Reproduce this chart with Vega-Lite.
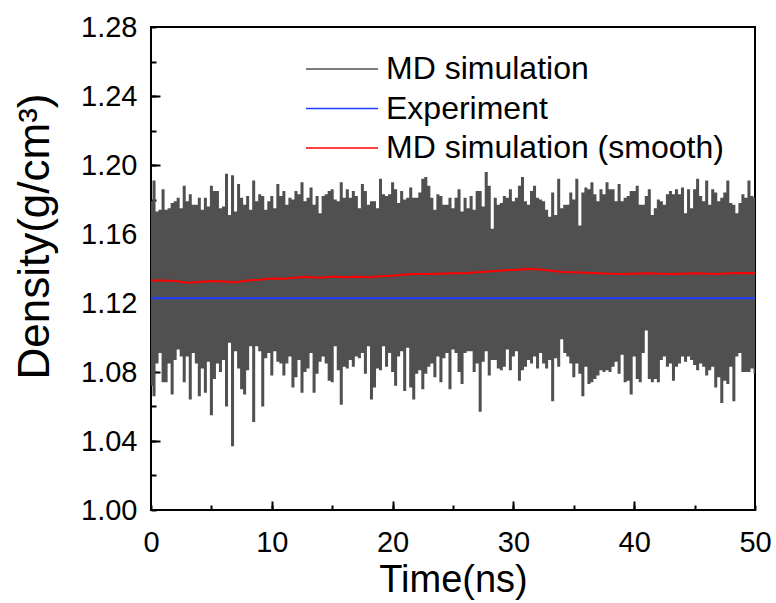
{
"$schema": "https://vega.github.io/schema/vega-lite/v6.json",
"width": 604, "height": 483,
"autosize": {"type": "none"},
"padding": {"left": 151, "top": 27, "right": 21, "bottom": 93},
"background": "white",
"config": {
  "font": "Liberation Sans",
  "view": {"stroke": "black", "strokeWidth": 2},
  "axis": {"grid": false, "domainColor": "black", "domainWidth": 2, "tickColor": "black", "tickWidth": 2, "labelColor": "black", "titleColor": "black", "labelFont": "Liberation Sans", "titleFont": "Liberation Sans", "titleFontWeight": "normal", "labelFontSize": 29}
},
"resolve": {"axis": {"x": "independent", "y": "independent"}},
"datasets": {
"md": [
{"t":0,"lo":1.072,"hi":1.179},{"t":0.25,"lo":1.066,"hi":1.191},{"t":0.5,"lo":1.085,"hi":1.173},{"t":0.75,"lo":1.091,"hi":1.174},
{"t":1,"lo":1.074,"hi":1.186},{"t":1.25,"lo":1.074,"hi":1.174},{"t":1.5,"lo":1.085,"hi":1.175},{"t":1.75,"lo":1.067,"hi":1.178},
{"t":2,"lo":1.087,"hi":1.179},{"t":2.25,"lo":1.093,"hi":1.181},{"t":2.5,"lo":1.089,"hi":1.175},{"t":2.75,"lo":1.074,"hi":1.188},
{"t":3,"lo":1.089,"hi":1.179},{"t":3.25,"lo":1.064,"hi":1.183},{"t":3.5,"lo":1.091,"hi":1.177},{"t":3.75,"lo":1.085,"hi":1.177},
{"t":4,"lo":1.066,"hi":1.181},{"t":4.25,"lo":1.082,"hi":1.174},{"t":4.5,"lo":1.068,"hi":1.181},{"t":4.75,"lo":1.086,"hi":1.176},
{"t":5,"lo":1.055,"hi":1.188},{"t":5.25,"lo":1.076,"hi":1.185},{"t":5.5,"lo":1.085,"hi":1.185},{"t":5.75,"lo":1.080,"hi":1.175},
{"t":6,"lo":1.087,"hi":1.176},{"t":6.25,"lo":1.060,"hi":1.195},{"t":6.5,"lo":1.097,"hi":1.171},{"t":6.75,"lo":1.037,"hi":1.194},
{"t":7,"lo":1.092,"hi":1.173},{"t":7.25,"lo":1.082,"hi":1.189},{"t":7.5,"lo":1.070,"hi":1.181},{"t":7.75,"lo":1.067,"hi":1.177},
{"t":8,"lo":1.081,"hi":1.182},{"t":8.25,"lo":1.095,"hi":1.174},{"t":8.5,"lo":1.051,"hi":1.191},{"t":8.75,"lo":1.095,"hi":1.179},
{"t":9,"lo":1.092,"hi":1.183},{"t":9.25,"lo":1.060,"hi":1.182},{"t":9.5,"lo":1.088,"hi":1.174},{"t":9.75,"lo":1.091,"hi":1.179},
{"t":10,"lo":1.078,"hi":1.182},{"t":10.25,"lo":1.092,"hi":1.175},{"t":10.5,"lo":1.086,"hi":1.189},{"t":10.75,"lo":1.085,"hi":1.182},
{"t":11,"lo":1.078,"hi":1.185},{"t":11.25,"lo":1.085,"hi":1.177},{"t":11.5,"lo":1.089,"hi":1.181},{"t":11.75,"lo":1.071,"hi":1.180},
{"t":12,"lo":1.077,"hi":1.185},{"t":12.25,"lo":1.087,"hi":1.183},{"t":12.5,"lo":1.068,"hi":1.190},{"t":12.75,"lo":1.080,"hi":1.179},
{"t":13,"lo":1.082,"hi":1.181},{"t":13.25,"lo":1.091,"hi":1.187},{"t":13.5,"lo":1.068,"hi":1.177},{"t":13.75,"lo":1.079,"hi":1.182},
{"t":14,"lo":1.086,"hi":1.172},{"t":14.25,"lo":1.089,"hi":1.182},{"t":14.5,"lo":1.085,"hi":1.183},{"t":14.75,"lo":1.075,"hi":1.185},
{"t":15,"lo":1.074,"hi":1.186},{"t":15.25,"lo":1.095,"hi":1.180},{"t":15.5,"lo":1.081,"hi":1.179},{"t":15.75,"lo":1.061,"hi":1.190},
{"t":16,"lo":1.083,"hi":1.181},{"t":16.25,"lo":1.082,"hi":1.186},{"t":16.5,"lo":1.087,"hi":1.181},{"t":16.75,"lo":1.083,"hi":1.185},
{"t":17,"lo":1.089,"hi":1.182},{"t":17.25,"lo":1.088,"hi":1.175},{"t":17.5,"lo":1.091,"hi":1.189},{"t":17.75,"lo":1.079,"hi":1.185},
{"t":18,"lo":1.095,"hi":1.177},{"t":18.25,"lo":1.064,"hi":1.179},{"t":18.5,"lo":1.071,"hi":1.179},{"t":18.75,"lo":1.082,"hi":1.175},
{"t":19,"lo":1.081,"hi":1.192},{"t":19.25,"lo":1.095,"hi":1.183},{"t":19.5,"lo":1.083,"hi":1.182},{"t":19.75,"lo":1.091,"hi":1.183},
{"t":20,"lo":1.080,"hi":1.190},{"t":20.25,"lo":1.072,"hi":1.186},{"t":20.5,"lo":1.089,"hi":1.178},{"t":20.75,"lo":1.092,"hi":1.185},
{"t":21,"lo":1.069,"hi":1.180},{"t":21.25,"lo":1.094,"hi":1.181},{"t":21.5,"lo":1.071,"hi":1.187},{"t":21.75,"lo":1.064,"hi":1.181},
{"t":22,"lo":1.079,"hi":1.181},{"t":22.25,"lo":1.081,"hi":1.184},{"t":22.5,"lo":1.070,"hi":1.192},{"t":22.75,"lo":1.079,"hi":1.193},
{"t":23,"lo":1.083,"hi":1.188},{"t":23.25,"lo":1.085,"hi":1.181},{"t":23.5,"lo":1.077,"hi":1.174},{"t":23.75,"lo":1.089,"hi":1.183},
{"t":24,"lo":1.074,"hi":1.182},{"t":24.25,"lo":1.088,"hi":1.177},{"t":24.5,"lo":1.091,"hi":1.177},{"t":24.75,"lo":1.070,"hi":1.181},
{"t":25,"lo":1.093,"hi":1.175},{"t":25.25,"lo":1.091,"hi":1.181},{"t":25.5,"lo":1.080,"hi":1.186},{"t":25.75,"lo":1.073,"hi":1.173},
{"t":26,"lo":1.091,"hi":1.181},{"t":26.25,"lo":1.092,"hi":1.175},{"t":26.5,"lo":1.092,"hi":1.182},{"t":26.75,"lo":1.080,"hi":1.174},
{"t":27,"lo":1.085,"hi":1.185},{"t":27.25,"lo":1.057,"hi":1.185},{"t":27.5,"lo":1.086,"hi":1.176},{"t":27.75,"lo":1.092,"hi":1.196},
{"t":28,"lo":1.078,"hi":1.188},{"t":28.25,"lo":1.087,"hi":1.163},{"t":28.5,"lo":1.087,"hi":1.181},{"t":28.75,"lo":1.082,"hi":1.177},
{"t":29,"lo":1.081,"hi":1.178},{"t":29.25,"lo":1.083,"hi":1.182},{"t":29.5,"lo":1.093,"hi":1.181},{"t":29.75,"lo":1.081,"hi":1.186},
{"t":30,"lo":1.089,"hi":1.179},{"t":30.25,"lo":1.092,"hi":1.181},{"t":30.5,"lo":1.075,"hi":1.188},{"t":30.75,"lo":1.081,"hi":1.193},
{"t":31,"lo":1.083,"hi":1.179},{"t":31.25,"lo":1.087,"hi":1.177},{"t":31.5,"lo":1.085,"hi":1.185},{"t":31.75,"lo":1.089,"hi":1.188},
{"t":32,"lo":1.082,"hi":1.181},{"t":32.25,"lo":1.091,"hi":1.180},{"t":32.5,"lo":1.085,"hi":1.179},{"t":32.75,"lo":1.082,"hi":1.174},
{"t":33,"lo":1.087,"hi":1.170},{"t":33.25,"lo":1.063,"hi":1.184},{"t":33.5,"lo":1.088,"hi":1.171},{"t":33.75,"lo":1.083,"hi":1.192},
{"t":34,"lo":1.099,"hi":1.175},{"t":34.25,"lo":1.091,"hi":1.177},{"t":34.5,"lo":1.089,"hi":1.177},{"t":34.75,"lo":1.085,"hi":1.184},
{"t":35,"lo":1.077,"hi":1.180},{"t":35.25,"lo":1.085,"hi":1.192},{"t":35.5,"lo":1.079,"hi":1.165},{"t":35.75,"lo":1.066,"hi":1.184},
{"t":36,"lo":1.083,"hi":1.187},{"t":36.25,"lo":1.073,"hi":1.186},{"t":36.5,"lo":1.074,"hi":1.190},{"t":36.75,"lo":1.076,"hi":1.183},
{"t":37,"lo":1.078,"hi":1.179},{"t":37.25,"lo":1.081,"hi":1.186},{"t":37.5,"lo":1.080,"hi":1.183},{"t":37.75,"lo":1.081,"hi":1.190},
{"t":38,"lo":1.080,"hi":1.186},{"t":38.25,"lo":1.083,"hi":1.186},{"t":38.5,"lo":1.086,"hi":1.179},{"t":38.75,"lo":1.079,"hi":1.189},
{"t":39,"lo":1.090,"hi":1.179},{"t":39.25,"lo":1.074,"hi":1.181},{"t":39.5,"lo":1.075,"hi":1.182},{"t":39.75,"lo":1.067,"hi":1.185},
{"t":40,"lo":1.089,"hi":1.185},{"t":40.25,"lo":1.076,"hi":1.188},{"t":40.5,"lo":1.074,"hi":1.177},{"t":40.75,"lo":1.091,"hi":1.177},
{"t":41,"lo":1.104,"hi":1.182},{"t":41.25,"lo":1.076,"hi":1.186},{"t":41.5,"lo":1.074,"hi":1.171},{"t":41.75,"lo":1.076,"hi":1.175},
{"t":42,"lo":1.074,"hi":1.180},{"t":42.25,"lo":1.087,"hi":1.179},{"t":42.5,"lo":1.089,"hi":1.177},{"t":42.75,"lo":1.083,"hi":1.183},
{"t":43,"lo":1.085,"hi":1.185},{"t":43.25,"lo":1.075,"hi":1.183},{"t":43.5,"lo":1.083,"hi":1.186},{"t":43.75,"lo":1.085,"hi":1.183},
{"t":44,"lo":1.089,"hi":1.187},{"t":44.25,"lo":1.086,"hi":1.172},{"t":44.5,"lo":1.089,"hi":1.186},{"t":44.75,"lo":1.087,"hi":1.175},
{"t":45,"lo":1.084,"hi":1.186},{"t":45.25,"lo":1.081,"hi":1.192},{"t":45.5,"lo":1.085,"hi":1.182},{"t":45.75,"lo":1.083,"hi":1.179},
{"t":46,"lo":1.078,"hi":1.191},{"t":46.25,"lo":1.081,"hi":1.177},{"t":46.5,"lo":1.083,"hi":1.186},{"t":46.75,"lo":1.071,"hi":1.184},
{"t":47,"lo":1.077,"hi":1.179},{"t":47.25,"lo":1.062,"hi":1.181},{"t":47.5,"lo":1.075,"hi":1.184},{"t":47.75,"lo":1.073,"hi":1.191},
{"t":48,"lo":1.083,"hi":1.178},{"t":48.25,"lo":1.063,"hi":1.177},{"t":48.5,"lo":1.089,"hi":1.172},{"t":48.75,"lo":1.091,"hi":1.178},
{"t":49,"lo":1.080,"hi":1.183},{"t":49.25,"lo":1.080,"hi":1.181},{"t":49.5,"lo":1.080,"hi":1.191},{"t":49.75,"lo":1.082,"hi":1.182},
{"t":50,"lo":1.079,"hi":1.181}
],
"exp": [{"t":0,"density":1.1227},{"t":50,"density":1.1227}],
"smooth": [
{"t":0,"density":1.1330},{"t":1,"density":1.1330},{"t":2,"density":1.1328},{"t":3,"density":1.1318},{"t":4,"density":1.1322},
{"t":5,"density":1.1327},{"t":6,"density":1.1325},{"t":7,"density":1.1320},{"t":8,"density":1.1330},{"t":9,"density":1.1335},
{"t":10,"density":1.1342},{"t":11,"density":1.1340},{"t":12,"density":1.1348},{"t":13,"density":1.1350},{"t":14,"density":1.1347},
{"t":15,"density":1.1353},{"t":16,"density":1.1350},{"t":17,"density":1.1352},{"t":18,"density":1.1350},{"t":19,"density":1.1355},
{"t":20,"density":1.1358},{"t":21,"density":1.1365},{"t":22,"density":1.1368},{"t":23,"density":1.1368},{"t":24,"density":1.1370},
{"t":25,"density":1.1372},{"t":26,"density":1.1372},{"t":27,"density":1.1378},{"t":28,"density":1.1382},{"t":29,"density":1.1388},
{"t":30,"density":1.1392},{"t":31,"density":1.1397},{"t":32,"density":1.1395},{"t":33,"density":1.1388},{"t":34,"density":1.1380},
{"t":35,"density":1.1378},{"t":36,"density":1.1375},{"t":37,"density":1.1372},{"t":38,"density":1.1370},{"t":39,"density":1.1368},
{"t":40,"density":1.1370},{"t":41,"density":1.1372},{"t":42,"density":1.1370},{"t":43,"density":1.1368},{"t":44,"density":1.1370},
{"t":45,"density":1.1372},{"t":46,"density":1.1370},{"t":47,"density":1.1368},{"t":48,"density":1.1372},{"t":49,"density":1.1374},
{"t":50,"density":1.1372}
]
},
"layer": [
{
  "data": {"name": "md"},
  "mark": {"type": "area", "interpolate": "step", "clip": true},
  "encoding": {
    "x": {"field": "t", "type": "quantitative", "scale": {"domain": [0, 50], "nice": false},
      "axis": {"orient": "bottom", "offset": -5, "title": "Time(ns)", "titleFontSize": 38, "values": [0,5,10,15,20,25,30,35,40,45,50],
        "labelExpr": "datum.value % 10 == 0 ? '' + datum.value : ''",
        "ticks": true, "tickSize": 5, "domain": false, "labelPadding": 18, "labelFlush": false, "labelOverlap": false,
        "titleY": 75, "titleBaseline": "middle"}},
    "y": {"field": "hi", "type": "quantitative", "scale": {"domain": [1, 1.28], "nice": false, "zero": false},
      "axis": {"orient": "left", "offset": -5, "title": "Density(g/cm³)", "titleFontSize": 44, "values": [1,1.02,1.04,1.06,1.08,1.1,1.12,1.14,1.16,1.18,1.2,1.22,1.24,1.26,1.28],
        "labelExpr": "round(datum.value*100) % 4 == 0 ? format(datum.value, '.2f') : ''",
        "ticks": true, "tickSize": 5, "domain": false, "labelPadding": 14, "labelOverlap": false, "labelFlush": false,
        "titleX": -121, "titleY": 209, "titleAlign": "center", "titleBaseline": "middle", "titleAngle": 270}},
    "y2": {"field": "lo"},
    "color": {"datum": "MD simulation", "type": "nominal",
      "scale": {"domain": ["MD simulation", "Experiment", "MD simulation (smooth)"], "range": ["#505050", "#1e3cff", "#ff0000"]},
      "legend": {"orient": "none", "legendX": 175, "legendY": 26, "title": null,
        "symbolType": "M-2.4,0H2.4", "symbolSize": 900, "symbolStrokeWidth": 1.5,
        "labelFontSize": 32, "labelFont": "Liberation Sans", "labelColor": "black", "labelOffset": 28, "labelLimit": 0, "rowPadding": 7.5, "padding": 0,
        "encode": {"symbols": {"update": {"stroke": {"scale": "color", "field": "value"}, "strokeWidth": {"value": 1.5}, "fill": {"value": "transparent"}}}}}}
  }
},
{
  "data": {"name": "exp"},
  "mark": {"type": "line", "strokeWidth": 2},
  "encoding": {
    "x": {"field": "t", "type": "quantitative",
      "axis": {"orient": "bottom", "offset": -9, "title": null, "values": [10,20,30,40], "ticks": true, "tickSize": 9, "labels": false, "domain": false}},
    "y": {"field": "density", "type": "quantitative",
      "axis": {"orient": "left", "offset": -9, "title": null, "values": [1.04,1.08,1.12,1.16,1.2,1.24], "ticks": true, "tickSize": 9, "labels": false, "domain": false}},
    "color": {"datum": "Experiment", "type": "nominal"}
  }
},
{
  "data": {"name": "smooth"},
  "mark": {"type": "line", "strokeWidth": 2},
  "encoding": {
    "x": {"field": "t", "type": "quantitative", "axis": null},
    "y": {"field": "density", "type": "quantitative", "axis": null},
    "color": {"datum": "MD simulation (smooth)", "type": "nominal"}
  }
}
]
}
